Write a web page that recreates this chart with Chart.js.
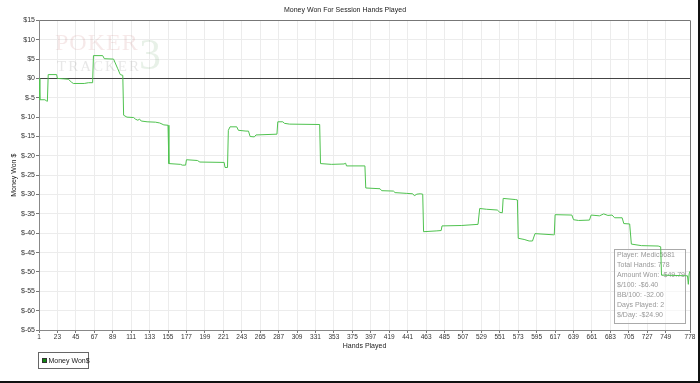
<!DOCTYPE html>
<html>
<head>
<meta charset="utf-8">
<script src="https://cdn.jsdelivr.net/npm/chart.js@4"></script>
<style>
  html, body { margin: 0; padding: 0; background: #fff; }
  #wrap { width: 700px; height: 383px; position: relative; }
</style>
</head>
<body>
<div id="wrap"><canvas id="chart" width="700" height="383"></canvas></div>
<script>
// hands played (x) and running money won (y)
const hands = [1, 2, 8, 10, 11, 12, 22, 23, 30, 36, 40, 42, 55, 60, 65, 66, 77, 79, 90, 92, 95, 98, 101, 102,
  106, 114, 116, 119, 121, 123, 130, 140, 145, 150, 155, 156, 170, 172, 176, 177, 190, 193, 222, 223, 226,
  227, 229, 237, 239, 248, 251, 253, 258, 260, 285, 286, 292, 294, 300, 336, 337, 350, 365, 367, 368, 390,
  391, 408, 410, 424, 426, 440, 447, 449, 452, 456, 459, 460, 475, 481, 482, 505, 525, 527, 535, 548, 551,
  554, 555, 570, 572, 573, 580, 586, 590, 593, 615, 616, 617, 637, 639, 645, 658, 660, 670, 675, 680, 685,
  688, 697, 699, 706, 708, 720, 740, 743, 744, 775, 776, 777, 778];
const moneyWon = [0, -5.5, -5.5, -5.8, -5.9, 1.0, 1.0, 0.0, -0.1, -0.2, -1.0, -1.3, -1.3, -1.1, -1.1, 5.9, 5.9, 5.1,
  5.0, 4.0, 2.5, 1.0, 0.8, -9.5, -10.0, -10.1, -10.5, -10.8, -10.5, -11.0, -11.2, -11.3, -11.5, -12.0, -12.1,
  -22.0, -22.2, -22.4, -22.4, -21.0, -21.2, -21.6, -21.7, -23.0, -23.0, -13.4, -12.5, -12.5, -13.4, -13.6,
  -13.6, -15.0, -15.1, -14.6, -14.4, -11.2, -11.2, -11.6, -11.8, -11.9, -22.0, -22.2, -22.1, -21.9, -22.6,
  -22.6, -28.3, -28.5, -29.0, -29.1, -29.5, -29.7, -29.8, -30.3, -29.9, -29.8, -29.9, -39.6, -39.4, -39.3,
  -38.1, -38.0, -37.7, -33.6, -33.8, -34.0, -34.6, -34.7, -31.0, -31.3, -31.4, -41.3, -41.6, -42.0, -42.0,
  -40.1, -40.4, -40.4, -35.2, -35.3, -36.5, -36.7, -36.6, -35.3, -35.5, -35.0, -35.4, -35.3, -36.0, -36.0,
  -37.5, -37.6, -42.8, -43.2, -43.3, -43.5, -50.8, -51.0, -53.2, -50.5, -49.79];

const handTicks = [1, 23, 45, 67, 89, 111, 133, 155, 177, 199, 221, 243, 265, 287, 309, 331, 353, 375, 397,
  419, 441, 463, 485, 507, 529, 551, 573, 595, 617, 639, 661, 683, 705, 727, 749, 778];

const statLines = ['Player: Medic5681', 'Total Hands: 778', 'Amount Won: -$49.79', '$/100: -$6.40',
  'BB/100: -32.00', 'Days Played: 2', '$/Day: -$24.90'];

const FONT = "'Liberation Sans', Arial, sans-serif";

const decor = {
  id: 'decor',
  beforeDraw(chart) {
    const ctx = chart.ctx;
    ctx.save();
    ctx.fillStyle = '#fff';
    ctx.fillRect(0, 0, chart.width, chart.height);
    ctx.fillStyle = '#111';
    ctx.fillRect(chart.width - 2, 0, 2, chart.height);
    ctx.fillRect(0, chart.height - 2, chart.width, 2);
    ctx.restore();
  },
  beforeDatasetsDraw(chart) {
    const ctx = chart.ctx;
    ctx.save();
    // faint logo watermark
    ctx.textBaseline = 'alphabetic';
    ctx.font = "44px 'Liberation Serif', serif";
    ctx.fillStyle = 'rgba(110,170,110,0.16)';
    ctx.fillText('3', 139, 69);
    ctx.font = "24px 'Liberation Serif', serif";
    ctx.letterSpacing = '1px';
    ctx.fillStyle = 'rgba(200,120,120,0.16)';
    ctx.fillText('POKER', 55, 50);
    ctx.font = "15px 'Liberation Serif', serif";
    ctx.letterSpacing = '2px';
    ctx.fillStyle = 'rgba(120,120,120,0.18)';
    ctx.fillText('TRACKER', 57, 71);
    ctx.letterSpacing = '0px';
    // stats box, under the line
    ctx.fillStyle = 'rgba(255,255,255,0.6)';
    ctx.fillRect(614.5, 249.5, 71, 74);
    ctx.strokeStyle = '#aaa';
    ctx.lineWidth = 1;
    ctx.strokeRect(614.5, 249.5, 71, 74);
    ctx.font = '7px ' + FONT;
    ctx.fillStyle = '#999';
    ctx.textBaseline = 'middle';
    statLines.forEach((t, i) => ctx.fillText(t, 617, 255.5 + i * 10));
    ctx.restore();
  },
  afterDraw(chart) {
    const ctx = chart.ctx;
    ctx.save();
    // legend box
    ctx.lineWidth = 1;
    ctx.strokeStyle = '#666';
    ctx.strokeRect(38.5, 352.5, 50, 16);
    ctx.fillStyle = '#118811';
    ctx.fillRect(42.5, 358.5, 4, 4);
    ctx.strokeStyle = '#333';
    ctx.strokeRect(42.5, 358.5, 4, 4);
    ctx.font = '7px ' + FONT;
    ctx.textBaseline = 'middle';
    ctx.fillStyle = '#222';
    ctx.fillText('Money Won$', 48.5, 361);
    ctx.restore();
  }
};

new Chart(document.getElementById('chart'), {
  type: 'line',
  data: {
    datasets: [{
      label: 'Money Won$',
      data: hands.map((h, i) => ({ x: h, y: moneyWon[i] })),
      borderColor: '#4fc24f',
      borderWidth: 1,
      pointRadius: 0,
      tension: 0,
      fill: false
    }]
  },
  options: {
    responsive: false,
    animation: false,
    layout: { padding: { top: 0, right: 10, bottom: 31, left: 0 } },
    plugins: {
      legend: { display: false },
      tooltip: { enabled: false },
      title: {
        display: true,
        text: 'Money Won For Session Hands Played',
        color: '#222',
        font: { size: 7, family: FONT, weight: 'normal' },
        padding: { top: 6, bottom: 6 }
      }
    },
    scales: {
      x: {
        type: 'linear',
        min: 1,
        max: 778,
        afterFit: s => { s.height = 22; },
        afterBuildTicks: s => { s.ticks = handTicks.map(v => ({ value: v })); },
        ticks: {
          autoSkip: false,
          maxRotation: 0,
          padding: 0,
          color: '#333',
          font: { size: 6.5, family: FONT }
        },
        grid: {
          color: c => (c.tick && c.tick.value === 778) ? '#777' : '#ececec',
          tickColor: '#777',
          tickLength: 3
        },
        border: { color: '#888' },
        title: {
          display: true,
          text: 'Hands Played',
          color: '#222',
          font: { size: 7, family: FONT },
          padding: { top: 0, bottom: 2 }
        }
      },
      y: {
        min: -65,
        max: 15,
        afterFit: s => { s.width = 39; },
        ticks: {
          stepSize: 5,
          padding: 1,
          color: '#333',
          font: { size: 7, family: FONT },
          callback: v => '$' + v
        },
        grid: {
          color: c => {
            if (c.tick && c.tick.value === 0) return '#444';
            if (c.tick && c.tick.value === 15) return '#777';
            return '#ececec';
          },
          tickColor: '#777',
          tickLength: 3
        },
        border: { color: '#888' },
        title: {
          display: true,
          text: 'Money Won $',
          color: '#222',
          font: { size: 7, family: FONT },
          padding: { top: 10, bottom: 0 }
        }
      }
    }
  },
  plugins: [decor]
});
</script>
</body>
</html>
